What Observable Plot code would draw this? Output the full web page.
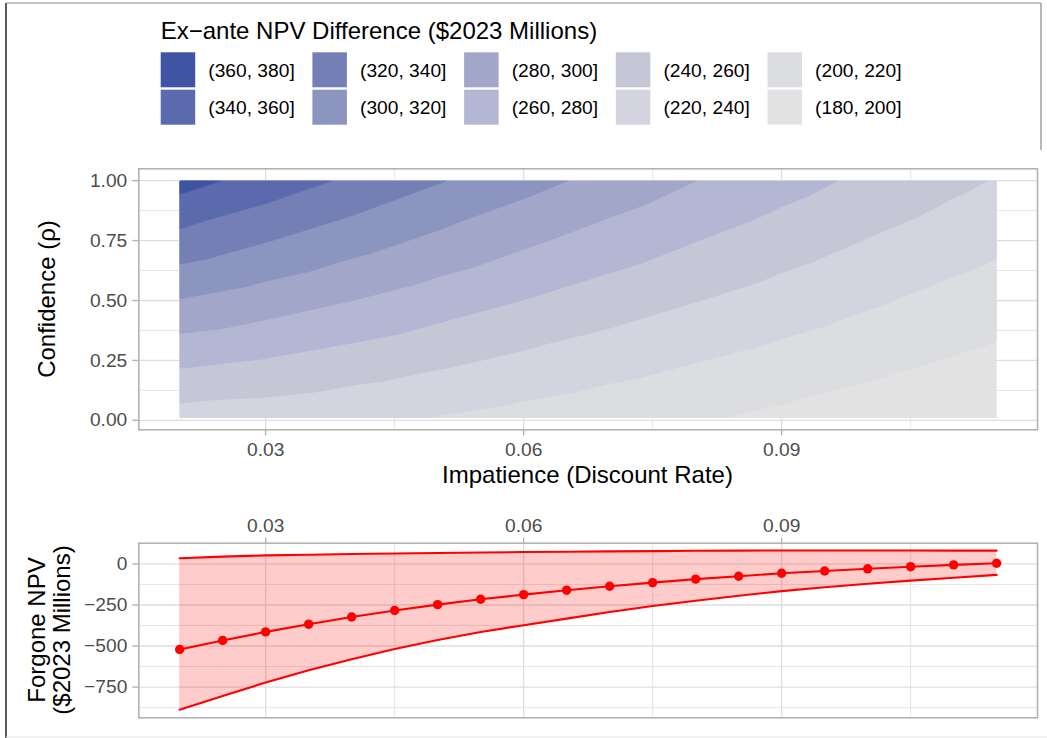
<!DOCTYPE html>
<html>
<head>
<meta charset="utf-8">
<script src="https://cdn.jsdelivr.net/npm/d3@7"></script>
<script src="https://cdn.jsdelivr.net/npm/@observablehq/plot@0.6"></script>
<style>
  body { margin: 0; background: #fff; }
  #wrap { position: relative; width: 1047px; height: 738px; overflow: hidden; background: #fff;
          font-family: "Liberation Sans", Arial, sans-serif; }
  #wrap > svg { position: absolute; left: 0; }
</style>
</head>
<body>
<div id="wrap"></div>
<script>
// ---------- Data: top panel (Ex-ante NPV difference, $2023 millions) ----------
const gridRates = [0.02, 0.03, 0.04, 0.05, 0.06, 0.07, 0.08, 0.09, 0.10, 0.11, 0.115];
const gridConfidence = [0.01, 0.25, 0.50, 0.75, 1.00];
const npvAtRho001 = [231.8, 229.5, 224.9, 219.2, 213.4, 207.7, 201.9, 196.0, 190.2, 184.2, 181.6];
const npvAtRho025 = [264.8, 259.2, 252.0, 244.1, 236.2, 228.5, 220.9, 213.5, 206.1, 198.8, 195.4];
const npvAtRho050 = [299.2, 290.2, 280.3, 270.0, 259.9, 250.2, 240.7, 231.7, 222.8, 214.1, 210.0];
const npvAtRho075 = [333.6, 321.1, 308.5, 295.8, 283.6, 271.8, 260.5, 249.8, 239.4, 229.3, 224.5];
const npvAtRho100 = [368.0, 352.0, 336.7, 321.7, 307.3, 293.5, 280.3, 268.0, 256.0, 244.5, 239.0];

const bandThresholds = [180, 200, 220, 240, 260, 280, 300, 320, 340, 360];
const bandColors = ["#e2e2e3", "#dcdde1", "#d3d4df", "#c5c6d6", "#b3b7d3",
                    "#a2a6c8", "#8c94c0", "#7480b5", "#5b6aad", "#3f55a4"];

// ---------- Data: bottom panel (Forgone NPV) ----------
const rates = [0.020, 0.025, 0.030, 0.035, 0.040, 0.045, 0.050, 0.055, 0.060, 0.065,
               0.070, 0.075, 0.080, 0.085, 0.090, 0.095, 0.100, 0.105, 0.110, 0.115];
const forgoneMean  = [-521, -466, -414, -367, -323, -284, -248, -215, -187, -160,
                      -136, -114, -93, -75, -57, -43, -30, -17, -6, 4];
const forgoneLower = [-888, -805, -722, -647, -580, -518, -463, -415, -373, -333,
                      -293, -256, -224, -194, -166, -142, -121, -102, -84, -67];
const forgoneUpper = [34, 44, 52, 56, 60, 63, 66, 69, 72, 74,
                      76, 78, 80, 81, 82, 82, 82, 82, 81, 81];

// ---------- Ticks ----------
const xMajor = [0.03, 0.06, 0.09];
const xMinor = [0.045, 0.075, 0.105];
const rhoMajor = [0, 0.25, 0.5, 0.75, 1];
const rhoMinor = [0.125, 0.375, 0.625, 0.875];
const npvMajor = [0, -250, -500, -750];
const npvMinor = [-125, -375, -625, -875];

// ---------- Build tables ----------
const rhoRows = [npvAtRho001, npvAtRho025, npvAtRho050, npvAtRho075, npvAtRho100];
const grid = [];
gridConfidence.forEach((rho, i) => {
  gridRates.forEach((r, j) => grid.push({r, rho, z: rhoRows[i][j]}));
});
const forgone = rates.map((r, i) => ({r, mean: forgoneMean[i], lo: forgoneLower[i], hi: forgoneUpper[i]}));

const FONT = '"Liberation Sans", Arial, sans-serif';
const W = 1047;
const xDomain = [0.01525, 0.11975];
const GRID = "#dedede", BORDER = "#b3b3b3", TICKTXT = "#4d4d4d";
const fmt2 = d3.format(".2f");
const ML = 138.3, MR = 10;

const wrap = document.getElementById("wrap");

// ---------- Top panel ----------
const topPlot = Plot.plot({
  width: W, height: 360,
  marginLeft: ML, marginRight: MR, marginTop: 28.3, marginBottom: 70.7,
  style: {fontFamily: FONT, fontSize: "19.2px", background: "transparent", overflow: "visible"},
  x: {domain: xDomain},
  y: {domain: [-0.0395, 1.0495]},
  color: {type: "ordinal", domain: bandThresholds, range: bandColors},
  marks: [
    Plot.gridX(xMinor, {stroke: GRID, strokeOpacity: 1, strokeWidth: 0.8}),
    Plot.gridY(rhoMinor, {stroke: GRID, strokeOpacity: 1, strokeWidth: 0.8}),
    Plot.gridX(xMajor, {stroke: GRID, strokeOpacity: 1, strokeWidth: 1.4}),
    Plot.gridY(rhoMajor, {stroke: GRID, strokeOpacity: 1, strokeWidth: 1.4}),
    Plot.contour(grid, {
      x: "r", y: "rho", fill: "z",
      thresholds: bandThresholds,
      interpolate: "barycentric",
      x1: 0.02, x2: 0.115, y1: 0.01, y2: 1.0,
      pixelSize: 1,
      stroke: "none"
    }),
    Plot.frame({stroke: BORDER, strokeWidth: 1.6}),
    Plot.axisX(xMajor, {anchor: "bottom", tickSize: 6, tickPadding: 6.5, tickFormat: fmt2,
      stroke: BORDER, strokeWidth: 1.4, fill: TICKTXT, fontSize: 19.2, label: null}),
    Plot.axisY(rhoMajor, {anchor: "left", tickSize: 6, tickPadding: 5.5, tickFormat: fmt2,
      stroke: BORDER, strokeWidth: 1.4, fill: TICKTXT, fontSize: 19.2, label: null})
  ]
});
topPlot.style.top = "140px";
wrap.appendChild(topPlot);

// ---------- Bottom panel ----------
const bottomPlot = Plot.plot({
  width: W, height: 238,
  marginLeft: ML, marginRight: MR, marginTop: 42.7, marginBottom: 20.7,
  style: {fontFamily: FONT, fontSize: "19.2px", background: "transparent", overflow: "visible"},
  x: {domain: xDomain},
  y: {domain: [-937, 126]},
  marks: [
    Plot.gridX(xMinor, {stroke: GRID, strokeOpacity: 1, strokeWidth: 0.8}),
    Plot.gridY(npvMinor, {stroke: GRID, strokeOpacity: 1, strokeWidth: 0.8}),
    Plot.gridX(xMajor, {stroke: GRID, strokeOpacity: 1, strokeWidth: 1.4}),
    Plot.gridY(npvMajor, {stroke: GRID, strokeOpacity: 1, strokeWidth: 1.4}),
    Plot.areaY(forgone, {x: "r", y1: "lo", y2: "hi", fill: "red", fillOpacity: 0.2}),
    Plot.lineY(forgone, {x: "r", y: "lo", stroke: "red", strokeWidth: 2.1}),
    Plot.lineY(forgone, {x: "r", y: "hi", stroke: "red", strokeWidth: 2.1}),
    Plot.lineY(forgone, {x: "r", y: "mean", stroke: "red", strokeWidth: 2.1}),
    Plot.dot(forgone, {x: "r", y: "mean", r: 4.7, fill: "red", stroke: "none"}),
    Plot.frame({stroke: BORDER, strokeWidth: 1.6}),
    Plot.axisX(xMajor, {anchor: "top", tickSize: 6, tickPadding: 5, tickFormat: fmt2,
      stroke: BORDER, strokeWidth: 1.4, fill: TICKTXT, fontSize: 19.2, label: null}),
    Plot.axisY(npvMajor, {anchor: "left", tickSize: 6, tickPadding: 5.5,
      stroke: BORDER, strokeWidth: 1.4, fill: TICKTXT, fontSize: 19.2, label: null})
  ]
});
bottomPlot.style.top = "500px";
wrap.appendChild(bottomPlot);

// ---------- Overlay: titles, legend, outer frame ----------
const ov = d3.create("svg")
  .attr("width", W).attr("height", 738)
  .style("top", "0px").style("pointer-events", "none")
  .style("font-family", FONT);

// outer frame remnants
ov.append("line").attr("x1", 6).attr("x2", 6).attr("y1", 3).attr("y2", 738)
  .attr("stroke", "#000").attr("stroke-width", 1.3);
ov.append("line").attr("x1", 6).attr("x2", 1041).attr("y1", 3).attr("y2", 3)
  .attr("stroke", "#8a8a8a").attr("stroke-width", 1.2);
ov.append("line").attr("x1", 1041).attr("x2", 1041).attr("y1", 3).attr("y2", 150)
  .attr("stroke", "#8a8a8a").attr("stroke-width", 1.2);
ov.append("line").attr("x1", 6).attr("x2", 1047).attr("y1", 737).attr("y2", 737)
  .attr("stroke", "#e3e3e3").attr("stroke-width", 1);

// legend
ov.append("text").attr("x", 160.7).attr("y", 39.3)
  .attr("font-size", 24).attr("fill", "#000")
  .text("Ex\u2212ante NPV Difference ($2023 Millions)");
const order = bandThresholds.slice().reverse();
order.forEach((lo, k) => {
  const col = Math.floor(k / 2), row = k % 2;
  const sx = 160.7 + col * 151.7, sy = 52.3 + row * 37.4;
  const ci = bandThresholds.indexOf(lo);
  ov.append("rect").attr("x", sx).attr("y", sy).attr("width", 34.5).attr("height", 35)
    .attr("fill", bandColors[ci]);
  ov.append("text").attr("x", sx + 47.6).attr("y", sy + 17.5).attr("dy", "0.35em")
    .attr("font-size", 19.2).attr("fill", "#000")
    .text(`(${lo}, ${lo + 20}]`);
});

// axis titles
ov.append("text").attr("x", 587.5).attr("y", 482.7).attr("text-anchor", "middle")
  .attr("font-size", 24).attr("fill", "#000").text("Impatience (Discount Rate)");
ov.append("text").attr("transform", "translate(55,299) rotate(-90)").attr("text-anchor", "middle")
  .attr("font-size", 24).attr("fill", "#000").text("Confidence (\u03c1)");
ov.append("text").attr("transform", "translate(45,630) rotate(-90)").attr("text-anchor", "middle")
  .attr("font-size", 24).attr("fill", "#000").text("Forgone NPV");
ov.append("text").attr("transform", "translate(70,630) rotate(-90)").attr("text-anchor", "middle")
  .attr("font-size", 24).attr("fill", "#000").text("($2023 Millions)");

wrap.appendChild(ov.node());
</script>
</body>
</html>
